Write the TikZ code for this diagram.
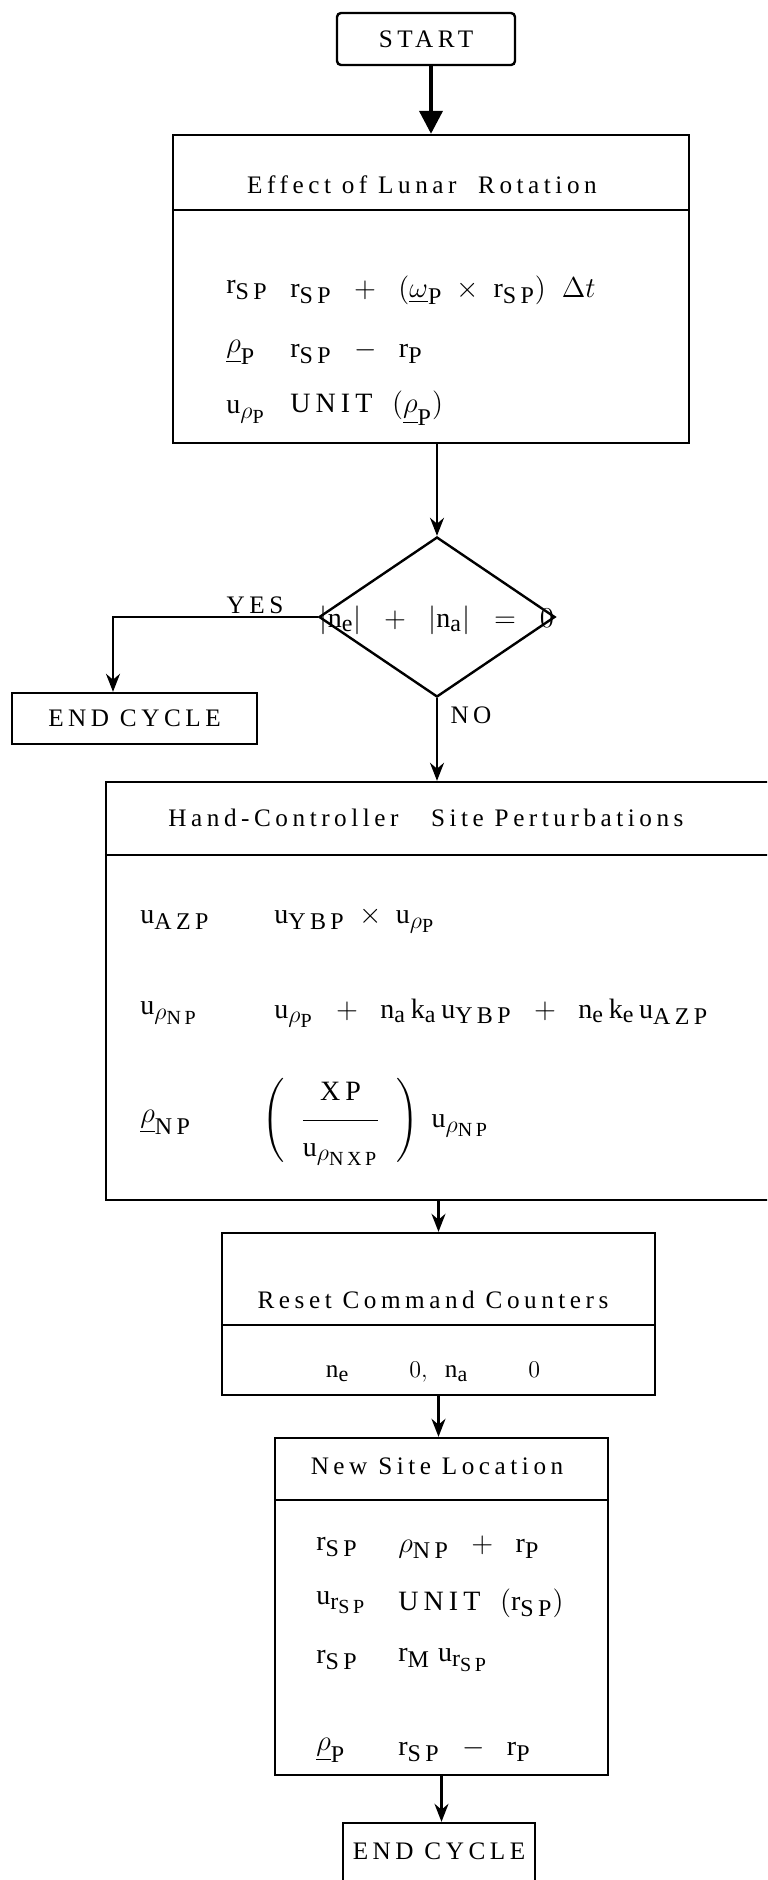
\documentclass[tikz,border=0pt]{standalone}
\usepackage{amsmath,amssymb}
\usepackage{fontspec}
\setmainfont{Liberation Serif}[LetterSpace=18]
\usetikzlibrary{positioning,arrows.meta,shapes.geometric}
\DeclareMathSizes{12.6}{12.6}{11}{9}
\DeclareMathSizes{14}{14}{12}{10}
\newcommand{\vv}[2]{\mathrm{#1}_{\text{#2}}}

\begin{document}
\begin{tikzpicture}[x=.5pt,y=-.5pt,font=\fontsize{12.6}{14}\selectfont,
  box/.style={draw,line width=1.2pt,inner sep=0pt},
  flow/.style={-{Stealth[length=9pt,width=7pt]},line width=1.1pt},
  eq/.style={anchor=west,inner sep=0pt,font=\fontsize{14}{16}\selectfont}]
\useasboundingbox (0,0) rectangle (767,1880);
\clip (0,0) rectangle (767,1880);
% Boxes, in pixel units with y pointing down.
\node[box,rounded corners=2pt,minimum width=89pt,minimum height=26pt] (start) at (426,39) {START};
\node[box,minimum width=258pt,minimum height=154pt] (rot) at (431,289) {};
\node[box,diamond,minimum width=118pt,minimum height=80pt] (dec) at (437,617) {};
\node[box,minimum width=122.5pt,minimum height=25.5pt] (endA) at (134.5,718.5) {END CYCLE};
\node[box,minimum width=347pt,minimum height=209pt] (hand) at (453,991) {};
\node[box,minimum width=216.5pt,minimum height=81pt] (reset) at (438.5,1314) {};
\node[box,minimum width=166.5pt,minimum height=168.5pt] (site) at (441.5,1606.5) {};
\node[box,minimum width=96pt,minimum height=32pt,text depth=4pt] (endB) at (439,1855) {END CYCLE};
% Header rules.
\draw[line width=1.2pt] (rot.west |- 0,210) -- (rot.east |- 0,210);
\draw[line width=1.2pt] (hand.west |- 0,855) -- (hand.east |- 0,855);
\draw[line width=1.2pt] (reset.west |- 0,1325) -- (reset.east |- 0,1325);
\draw[line width=1.2pt] (site.west |- 0,1500) -- (site.east |- 0,1500);
% Headers.
\node (rotT) at (422,185) {Effect of Lunar\ \ Rotation};
\node (handT) at (426,818) {Hand-Controller\ \ \ Site Perturbations};
\node (resetT) at (433,1300) {Reset Command Counters};
\node (siteT) at (437,1466) {New Site Location};
% Effect of Lunar Rotation.
\node[eq] (rotA1) at (226,290) {$\vv{r}{SP}$};
\node[eq] (rotB1) at (290,290) {$\vv{r}{SP}\;\;+\;\;(\underline{\omega}_{\text{P}}\;\times\;\vv{r}{SP})\;\;\Delta t$};
\node[eq] (rotA2) at (226,352) {$\underline{\rho}_{\text{P}}$};
\node[eq] (rotB2) at (290,352) {$\vv{r}{SP}\;\;-\;\;\vv{r}{P}$};
\node[eq] (rotA3) at (226,412) {$\mathrm{u}_{\rho_{\text{P}}}$};
\node[eq] (rotB3) at (290,408) {UNIT\; $(\underline{\rho}_{\text{P}})$};
% Decision.
\node[eq,anchor=center] (decT) at (437,620) {$|\vv{n}{e}|\;\;+\;\;|\vv{n}{a}|\;\;=\;\;0$};
\node (yes) at (255,605) {YES};
\node (no) at (471,715) {NO};
% Hand-Controller Site Perturbations.
\node[eq] (handA1) at (140,920) {$\vv{u}{AZP}$};
\node[eq] (handB1) at (274,920) {$\vv{u}{YBP}\;\times\;\mathrm{u}_{\rho_{\text{P}}}$};
\node[eq] (handA2) at (140,1013) {$\mathrm{u}_{\rho_{\text{NP}}}$};
\node[eq] (handB2) at (274,1013) {$\mathrm{u}_{\rho_{\text{P}}}\;\;+\;\;\vv{n}{a}\,\vv{k}{a}\,\vv{u}{YBP}\;\;+\;\;\vv{n}{e}\,\vv{k}{e}\,\vv{u}{AZP}$};
\node[eq] (handA3) at (140,1122) {$\underline{\rho}_{\text{NP}}$};
\node[eq] (handB3) at (262,1122) {$\left(\;\;\dfrac{\text{XP}\rule[-8pt]{0pt}{16pt}}{\rule{0pt}{16pt}\mathrm{u}_{\rho_{\text{NXP}}}}\;\;\right)\;\mathrm{u}_{\rho_{\text{NP}}}$};
% Reset Command Counters.
\node (resetA) at (433,1372) {$\vv{n}{e}\hspace{30pt}0,\;\;\vv{n}{a}\hspace{30pt}0$};
% New Site Location.
\node[eq] (siteA1) at (316,1547) {$\vv{r}{SP}$};
\node[eq] (siteB1) at (398,1547) {$\rho_{\text{NP}}\;\;+\;\;\vv{r}{P}$};
\node[eq] (siteA2) at (316,1603) {$\mathrm{u}_{\mathrm{r}_{\text{SP}}}$};
\node[eq] (siteB2) at (398,1603) {UNIT\; $(\vv{r}{SP})$};
\node[eq] (siteA3) at (316,1660) {$\vv{r}{SP}$};
\node[eq] (siteB3) at (398,1660) {$\vv{r}{M}\;\mathrm{u}_{\mathrm{r}_{\text{SP}}}$};
\node[eq] (siteA4) at (316,1750) {$\underline{\rho}_{\text{P}}$};
\node[eq] (siteB4) at (398,1750) {$\vv{r}{SP}\;\;-\;\;\vv{r}{P}$};
% Connectors.
\draw[-{Triangle[length=11.5pt,width=11.5pt]},line width=2pt] (start.south -| rot.north) -- (rot.north);
\draw[flow] (dec.north |- rot.south) -- (dec.north);
\draw[flow] (dec.west) -| ([xshift=-10.75pt]endA.north);
\draw[flow] (dec.south) -- (dec.south |- hand.north);
\draw[flow] (reset.north |- hand.south) -- (reset.north);
\draw[flow] (reset.south) -- (reset.south |- site.north);
\draw[flow] (site.south) -- (site.south |- endB.north);
\end{tikzpicture}
\end{document}
